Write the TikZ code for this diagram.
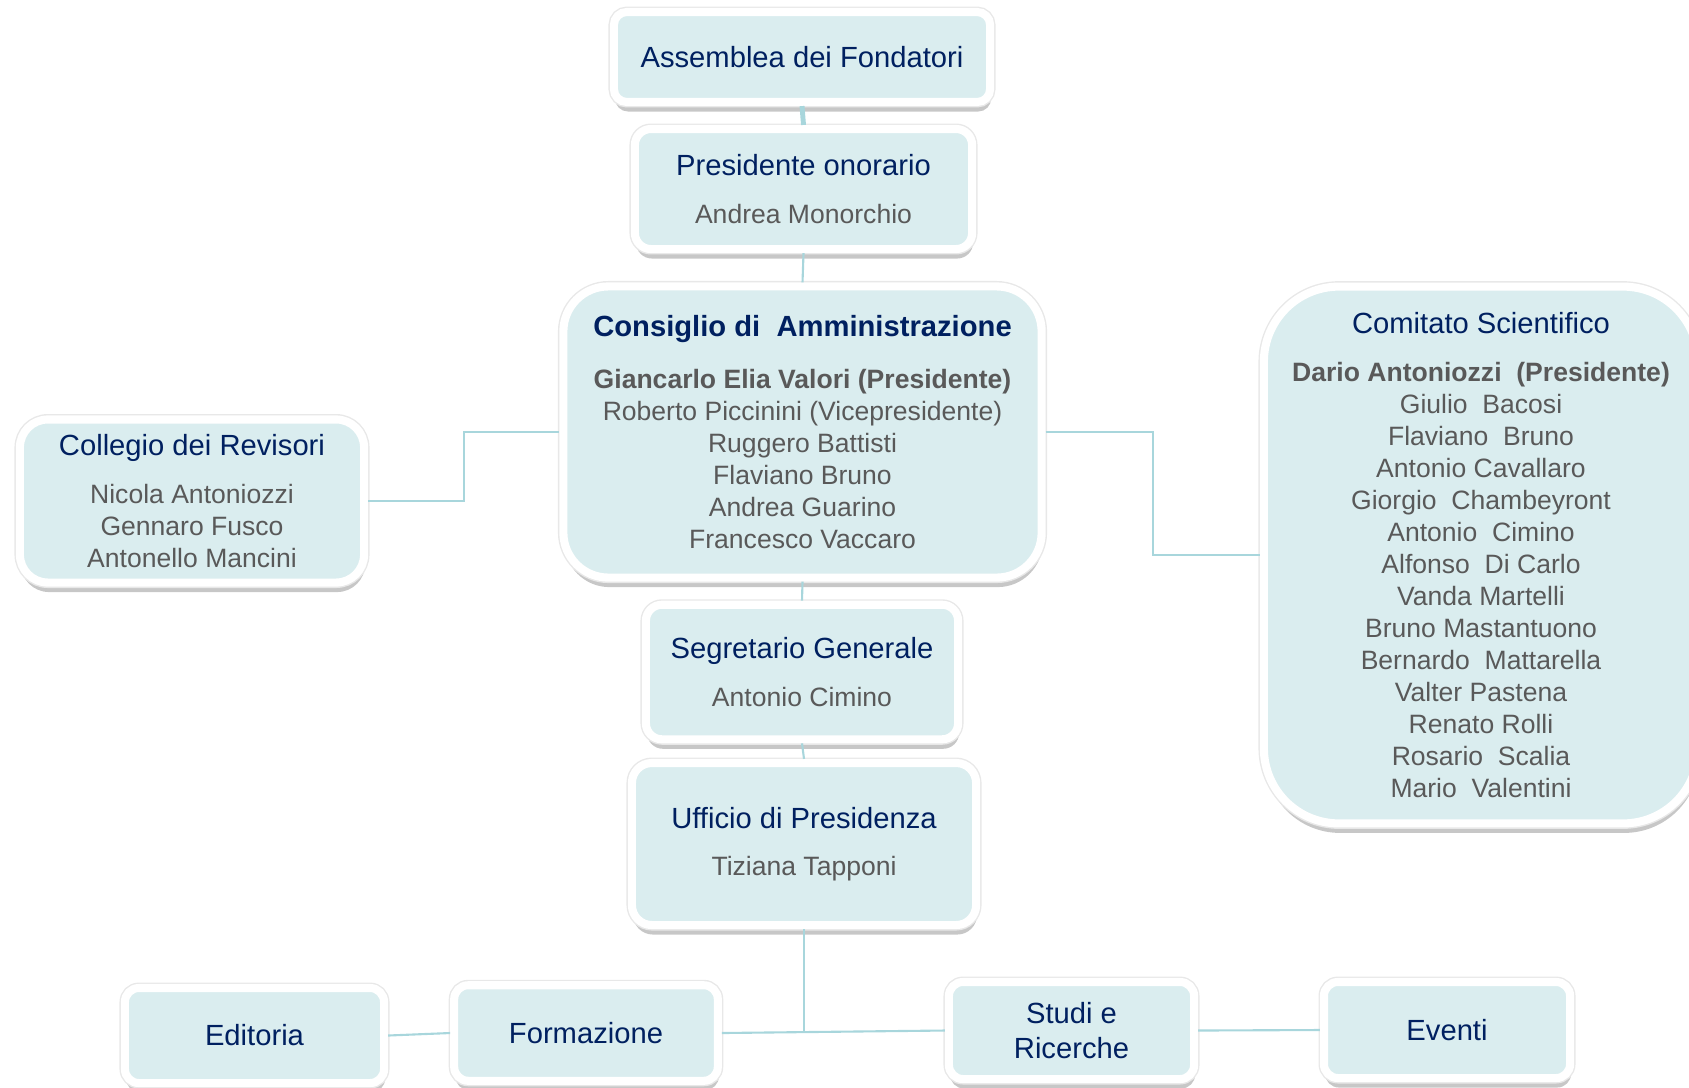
\documentclass[tikz,border=0pt]{standalone}
\usepackage{fontspec}
\setmainfont{Liberation Sans}
\usetikzlibrary{calc, shadows}

\definecolor{boxfill}{RGB}{218,237,239}
\definecolor{titleblue}{RGB}{0,32,96}
\definecolor{namegray}{RGB}{89,89,89}
\definecolor{linkcol}{RGB}{168,214,220}

\newcommand{\headfont}{\fontsize{8.3}{9.7}\selectfont\color{titleblue}}

\begin{document}
\begin{tikzpicture}[x=0.01cm, y=-0.01cm,
    orgbox/.style={draw=white, line width=2.3pt, fill=boxfill, rounded corners=#1,
      align=center, inner sep=0pt, text=namegray,
      font=\fontsize{7.55}{9.1}\selectfont,
      drop shadow={shadow xshift=0.3pt, shadow yshift=-2.7pt, fill=black, opacity=0.22},
      preaction={draw=black!9, line width=3.1pt}},
    orgbox/.default=0.15cm,
    link/.style={draw=linkcol, line width=0.6pt}]
    % Fix the page to the size of the chart
    \useasboundingbox (0,0) rectangle (1689,1087);
    \clip (0,0) rectangle (1689,1087);

    % Central column
    \node[orgbox=0.13cm, minimum width=3.76cm, minimum height=0.9cm] (asm) at (802,57)
      {\headfont Assemblea dei Fondatori};
    \node[orgbox=0.16cm, minimum width=3.37cm, minimum height=1.2cm] (pres) at (803.5,189)
      {{\headfont Presidente onorario}\\[4.3pt] Andrea Monorchio};
    \node[orgbox=0.45cm, minimum width=4.78cm, minimum height=2.91cm] (cda) at (802.5,432)
      {{\headfont\bfseries Consiglio di~~Amministrazione}\\[5.7pt]
       {\bfseries Giancarlo Elia Valori (Presidente)}\\
       Roberto Piccinini (Vicepresidente)\\
       Ruggero Battisti\\
       Flaviano Bruno\\
       Andrea Guarino\\
       Francesco Vaccaro};
    \node[orgbox=0.16cm, minimum width=3.12cm, minimum height=1.345cm] (seg) at (802,672)
      {{\headfont Segretario Generale}\\[4.6pt] Antonio Cimino};
    \node[orgbox=0.2cm, minimum width=3.44cm, minimum height=1.62cm] (uff) at (804,844)
      {{\headfont Ufficio di Presidenza}\\[4.3pt] Tiziana Tapponi};

    % Side boxes
    \node[orgbox=0.28cm, minimum width=3.44cm, minimum height=1.63cm] (coll) at (192,501)
      {{\headfont Collegio dei Revisori}\\[4.3pt]
       Nicola Antoniozzi\\
       Gennaro Fusco\\
       Antonello Mancini};
    \node[orgbox=0.75cm, minimum width=4.34cm, minimum height=5.365cm] (cs) at (1481,555)
      {{\headfont Comitato Scientifico}\\[4.5pt]
       {\bfseries Dario Antoniozzi~~(Presidente)}\\
       Giulio~~Bacosi\\
       Flaviano~~Bruno\\
       Antonio Cavallaro\\
       Giorgio~~Chambeyront\\
       Antonio~~Cimino\\
       Alfonso~~Di Carlo\\
       Vanda Martelli\\
       Bruno Mastantuono\\
       Bernardo~~Mattarella\\
       Valter Pastena\\
       Renato Rolli\\
       Rosario~~Scalia\\
       Mario~~Valentini};

    % Bottom row
    \node[orgbox=0.14cm, minimum width=2.59cm, minimum height=0.95cm] (edit) at (254.5,1035.5)
      {\headfont Editoria};
    \node[orgbox=0.14cm, minimum width=2.635cm, minimum height=0.955cm] (form) at (586,1033)
      {\headfont Formazione};
    \node[orgbox=0.14cm, minimum width=2.45cm, minimum height=0.97cm] (stud) at (1071.5,1030.5)
      {{\headfont Studi e}\\[0.6pt]{\headfont Ricerche}};
    \node[orgbox=0.14cm, minimum width=2.46cm, minimum height=0.96cm] (even) at (1447,1030)
      {\headfont Eventi};

    % Connectors
    \draw[link, line width=1.4pt] (asm.south) -- (pres.north);
    \draw[link] (pres.south) -- (cda.north);
    \draw[link] (cda.south) -- (seg.north);
    \draw[link] (seg.south) -- (uff.north);
    \draw[link] (coll.east) -| ($(coll.east)!0.5!(cda.west)$) |- (cda.west);
    \draw[link] (cda.east) -| ($(cda.east)!0.5!(cs.west)$) |- (cs.west);
    \draw[link] (uff.south) -- (uff.south |- stud.west);
    \draw[link] (form.east) -- (stud.west);
    \draw[link] (edit.east) -- (form.west);
    \draw[link] (stud.east) -- (even.west);
  \end{tikzpicture}
\end{document}
